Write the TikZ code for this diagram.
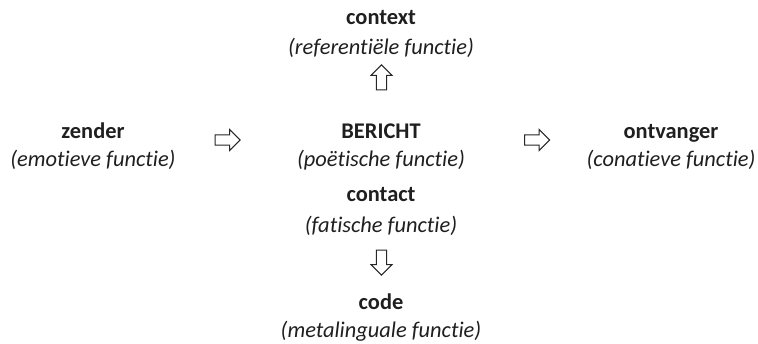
\documentclass[tikz,border=0pt]{standalone}
\usepackage{fontspec}
\setmainfont[RawFeature=-liga]{Carlito}
\usetikzlibrary{shapes.arrows}
\tikzset{
  head/.style={font=\fontsize{22.5}{27}\selectfont\bfseries, text=black!88, inner sep=0pt, anchor=base},
  func/.style={font=\fontsize{22.5}{27}\selectfont\itshape, text=black!88, inner sep=0pt, anchor=base},
  blockarrow/.style={single arrow, draw=black!85, fill=white, line width=1bp,
    inner xsep=0pt, inner ysep=4.3bp, minimum width=21bp, minimum height=25bp,
    single arrow head extend=5bp}
}
\begin{document}
\begin{tikzpicture}[x=1bp,y=-1bp]
\useasboundingbox (0,0) rectangle (758,343);
\node[head] (context) at (381,24) {context};
\node[func] (contextf) at (381,54) {(referentiële functie)};
\node[blockarrow, rotate=90] (up) at (381.5,80) {};
\node[head] (zender) at (93,138) {zender};
\node[func] (zenderf) at (93,166) {(emotieve functie)};
\node[blockarrow] (r1) at (225,140) {};
\node[head] (bericht) at (381,138) {BERICHT};
\node[func] (berichtf) at (381,166) {(poëtische functie)};
\node[blockarrow] (r2) at (534.5,140) {};
\node[head] (ontvanger) at (671,138) {ontvanger};
\node[func] (ontvangerf) at (671,166) {(conatieve functie)};
\node[head] (contact) at (381,201) {contact};
\node[func] (contactf) at (381,232) {(fatische functie)};
\node[blockarrow, rotate=-90] (down) at (381.5,260) {};
\node[head] (code) at (381,309) {code};
\node[func] (codef) at (381,337) {(metalinguale functie)};
\end{tikzpicture}
\end{document}
